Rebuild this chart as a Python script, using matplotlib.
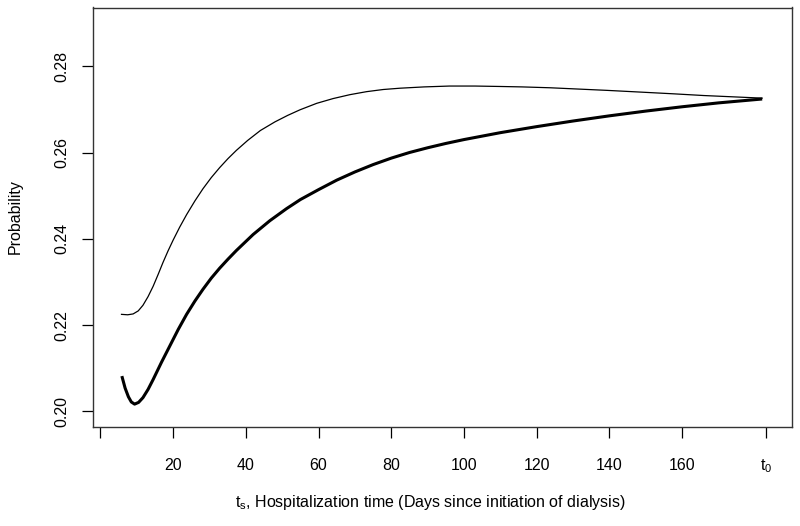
import matplotlib
matplotlib.use("Agg")
import matplotlib.pyplot as plt

plt.rcParams['font.family'] = ['Liberation Sans', 'DejaVu Sans']
plt.rcParams['mathtext.fontset'] = 'custom'
plt.rcParams['mathtext.rm'] = 'Liberation Sans'
plt.rcParams['mathtext.it'] = 'Liberation Sans'

# Thin curve
thin_x = [5.8, 7.5, 9.0, 10.4, 11.7, 13.1, 14.5, 15.9, 17.2, 18.6, 20.0, 21.8, 23.7,
          26.0, 28.2, 30.5, 32.8, 35.1, 37.4, 40.5, 44.0, 48.0, 51.5, 54.9, 59.5,
          64.0, 68.6, 73.2, 77.8, 82.4, 89.0, 96.0, 103.0, 110.0, 116.0, 123.7,
          131.5, 139.3, 148.5, 157.6, 166.0, 174.0, 182.0]
thin_y = [0.2225, 0.2224, 0.2226, 0.2233, 0.2246, 0.2266, 0.2290, 0.2318, 0.2345,
          0.2372, 0.2397, 0.2427, 0.2456, 0.2488, 0.2516, 0.2542, 0.2565, 0.2586,
          0.2605, 0.2628, 0.2651, 0.2671, 0.2686, 0.2699, 0.2714, 0.2725, 0.2734,
          0.2741, 0.2746, 0.2749, 0.2752, 0.2754, 0.2754, 0.2753, 0.2752, 0.2750,
          0.2747, 0.2744, 0.2740, 0.2736, 0.2732, 0.2729, 0.2726]

# Thick curve
thick_x = [5.9, 6.8, 7.7, 8.5, 9.4, 10.5, 11.7, 13.1, 14.5, 16.8, 19.1, 21.4, 23.7,
           26.0, 28.2, 30.5, 32.8, 35.1, 37.4, 42.0, 46.6, 51.2, 55.0, 60.0, 65.0,
           70.0, 75.0, 80.0, 85.0, 90.0, 95.0, 100.0, 110.0, 120.0, 130.0, 140.0,
           150.0, 160.0, 170.0, 182.0]
thick_y = [0.2082, 0.2054, 0.2034, 0.2022, 0.2017, 0.2021, 0.2032, 0.2051, 0.2074,
           0.2114, 0.2152, 0.2190, 0.2225, 0.2256, 0.2283, 0.2309, 0.2332, 0.2353,
           0.2373, 0.2410, 0.2442, 0.2470, 0.2491, 0.2514, 0.2536, 0.2555, 0.2572,
           0.2587, 0.2600, 0.2611, 0.2621, 0.2630, 0.2646, 0.2660, 0.2673, 0.2685,
           0.2696, 0.2706, 0.2715, 0.2724]

xticks = [0, 20, 40, 60, 80, 100, 120, 140, 160, 183]
xticklabels = ['', '20', '40', '60', '80', '100', '120', '140', '160', r'$\mathregular{t_0}$']
yticks = [0.20, 0.22, 0.24, 0.26, 0.28]
yticklabels = ['0.20', '0.22', '0.24', '0.26', '0.28']

fig = plt.figure(figsize=(8.0, 5.26), dpi=100)
ax = fig.add_axes([92.7/800, 1 - 427/526, (791.7 - 92.7)/800, (427 - 7.5)/526])

ax.plot(thin_x, thin_y, color='black', lw=0.9, solid_joinstyle='round')
ax.plot(thick_x, thick_y, color='black', lw=2.2, solid_joinstyle='round',
        solid_capstyle='butt')

ax.set_xlim(-2.12, 190.12)
ax.set_ylim(0.1964, 0.2936)

ax.set_xticks(xticks)
ax.set_xticklabels(xticklabels)
ax.set_yticks(yticks)
ax.set_yticklabels(yticklabels, rotation=90, va='center')

ax.tick_params(axis='both', direction='out', length=8, width=0.9, colors='black',
               labelsize=11.5)
ax.tick_params(axis='x', pad=14)
ax.tick_params(axis='y', pad=9)

for s in ax.spines.values():
    s.set_linewidth(1.0)
    s.set_color('#333333')

fig.text(430/800, 1 - 503/526, r'$\mathregular{t_s}$, Hospitalization time (Days since initiation of dialysis)',
         ha='center', va='center', fontsize=11.5)
fig.text(15/800, 1 - 217/526, 'Probability', rotation=90, ha='center', va='center',
         fontsize=11.5)

fig.savefig('out.png', dpi=100)
